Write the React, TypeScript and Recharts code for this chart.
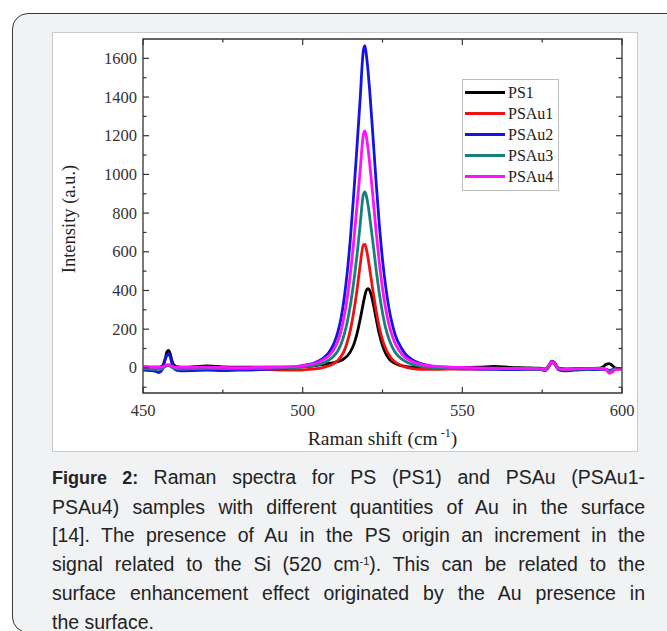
import { LineChart, Line, XAxis, YAxis, ReferenceArea, Label } from 'recharts';

// Raman shift (cm-1) sample positions
const ramanShift = [
  450, 452, 454, 455, 456, 457, 457.5, 458, 458.5, 459,
  460, 461, 463, 466, 470, 475, 480, 485, 490, 495,
  498, 500, 502, 504, 506, 508, 509, 510, 511, 512,
  513, 514, 515, 516, 517, 518, 519, 519.5, 520, 520.5,
  521, 522, 523, 524, 525, 526, 527, 528, 529, 530,
  532, 534, 537, 540, 545, 550, 555, 560, 565, 570,
  574, 576, 577, 578, 579, 580, 582, 585, 590, 593,
  594, 595, 596, 597, 598, 600,
];

const ps1 = [
  5, 4, 3, 3, 8, 50, 82, 90, 75, 40,
  10, 5, 4, 6, 10, 5, 3, 4, 3, 4,
  4, 5, 8, 12, 17, 22, 25, 28, 32, 38,
  48, 62, 85, 120, 175, 250, 335, 375, 403, 410,
  400, 340, 255, 175, 115, 75, 48, 32, 22, 15,
  8, 4, 2, 2, 3, 2, 3, 8, 2, 0,
  -2, -6, 10, 35, 25, 0, -6, -4, -3, -2,
  5, 18, 22, 12, -2, -5,
];

const psAu1 = [
  0, -2, -3, -3, 0, 8, 12, 13, 10, 5,
  0, -2, -3, -3, -2, -4, -6, -7, -9, -11,
  -11, -10, -8, -5, 0, 10, 16, 25, 38, 58,
  88, 135, 200, 290, 400, 530, 635, 638, 610, 565,
  510, 400, 295, 210, 145, 100, 68, 45, 30, 20,
  5, -3, -8, -8, -7, -6, -6, -4, -5, -6,
  -7, -10, 5, 28, 18, -5, -10, -8, -7, -6,
  -6, -10, -16, -12, -5, -6,
];

const psAu2 = [
  -12, -14, -18, -24, -10, 45, 65, 72, 58, 25,
  -8, -14, -15, -14, -12, -14, -12, -10, -6, -2,
  5, 12, 18, 28, 45, 75, 100, 135, 185, 255,
  360, 500, 680, 900, 1140, 1390, 1640, 1665, 1610, 1530,
  1430, 1200, 960, 740, 560, 420, 310, 230, 170, 130,
  75, 45, 22, 10, 0, -5, -6, -8, -9, -8,
  -8, -14, 2, 28, 18, -8, -16, -12, -9, -8,
  -6, -8, -12, -10, -5, -4,
];

const psAu3 = [
  -5, -6, -8, -8, -4, 8, 12, 14, 11, 4,
  -4, -6, -6, -5, -4, -5, -5, -4, -3, 0,
  3, 5, 9, 14, 22, 38, 50, 65, 88, 122,
  172, 240, 330, 445, 580, 740, 895, 910, 885, 840,
  780, 650, 510, 385, 285, 205, 150, 110, 80, 60,
  35, 20, 8, 2, -3, -4, -4, -5, -5, -5,
  -6, -10, 6, 30, 20, -4, -10, -7, -6, -5,
  -4, -8, -16, -12, -4, -5,
];

const psAu4 = [
  5, 4, 3, 3, 5, 12, 16, 17, 14, 8,
  4, 3, 2, 3, 4, 2, 1, 2, 3, 5,
  8, 12, 17, 24, 38, 60, 78, 102, 138, 190,
  265, 365, 495, 655, 835, 1020, 1205, 1225, 1190, 1130,
  1055, 885, 705, 545, 410, 305, 225, 168, 125, 95,
  55, 35, 18, 10, 4, 2, 0, -2, -3, -3,
  -4, -10, 8, 33, 22, -3, -8, -5, -4, -3,
  -2, -8, -28, -22, -8, -6,
];

const seriesNames = ['PS1', 'PSAu1', 'PSAu2', 'PSAu3', 'PSAu4'];
const seriesColors = ['#000000', '#ee1111', '#1414e6', '#16807a', '#ff10ff'];
const seriesValues = [ps1, psAu1, psAu2, psAu3, psAu4];

const xTicks = [450, 475, 500, 525, 550, 575, 600];
const xLabelled = [450, 500, 550, 600];
const yTicks = [-100, 0, 100, 200, 300, 400, 500, 600, 700, 800, 900, 1000, 1100, 1200, 1300, 1400, 1500, 1600];

const captionLines = [
  'Raman spectra for PS (PS1) and PSAu (PSAu1-',
  'PSAu4) samples with different quantities of Au in the surface',
  '[14]. The presence of Au in the PS origin an increment in the',
  'signal related to the Si (520 cm',
  'surface enhancement effect originated by the Au presence in',
  'the surface.',
];

const data = ramanShift.map((x, i) => {
  const row: Record<string, number> = { x };
  seriesNames.forEach((n, k) => {
    row[n] = seriesValues[k][i];
  });
  return row;
});

// plot box inside the chart svg
const W = 586;
const H = 420;
const PL = 91;
const PR = 570;
const PT = 7;
const PB = 361;
const serif = '"Liberation Serif", "Times New Roman", serif';
const axisColor = '#333';

function YTick(props: any) {
  const { y, payload } = props;
  const v = payload.value;
  const major = v % 200 === 0;
  const len = major ? 6 : 3.5;
  return (
    <g>
      <line x1={PL} x2={PL + len} y1={y} y2={y} stroke={axisColor} strokeWidth={1.2} />
      <line x1={PR} x2={PR - len} y1={y} y2={y} stroke={axisColor} strokeWidth={1.2} />
      {major && (
        <text x={PL - 6} y={y} textAnchor="end" dominantBaseline="central" fontFamily={serif} fontSize={16.5} fill="#333">
          {v}
        </text>
      )}
    </g>
  );
}

function XTick(props: any) {
  const { x, payload } = props;
  const v = payload.value;
  const major = xLabelled.includes(v);
  const len = major ? 6 : 3.5;
  return (
    <g>
      <line x1={x} x2={x} y1={PB} y2={PB - len} stroke={axisColor} strokeWidth={1.2} />
      <line x1={x} x2={x} y1={PT} y2={PT + len} stroke={axisColor} strokeWidth={1.2} />
      {major && (
        <text x={x} y={PB + 17} textAnchor="middle" dominantBaseline="central" fontFamily={serif} fontSize={16.5} fill="#333">
          {v}
        </text>
      )}
    </g>
  );
}

function LegendBox() {
  return (
    <div
      style={{
        position: 'absolute',
        left: 410,
        top: 47,
        background: '#fff',
        border: '1px solid #bdbdbd',
        padding: '2px 4px 3px 2px',
        width: 89,
        fontFamily: serif,
        fontSize: 16,
        color: '#222',
      }}
    >
      {seriesNames.map((n, k) => (
        <div key={n} style={{ display: 'flex', alignItems: 'center', height: 21.1 }}>
          <div style={{ width: 40, height: 3, background: seriesColors[k], marginRight: 3 }} />
          <span style={{ lineHeight: '21px' }}>{n}</span>
        </div>
      ))}
    </div>
  );
}

export default function App() {
  return (
    <div style={{ position: 'absolute', left: 0, top: 0, width: 667, height: 631, overflow: 'hidden', background: '#fff' }}>
      <div
        style={{
          position: 'absolute',
          left: 12,
          top: 13,
          width: 700,
          height: 618,
          border: '1.5px solid #3a3a3a',
          borderRadius: 16,
          background: '#f1f2f4',
        }}
      />
      <div
        style={{
          position: 'absolute',
          left: 52,
          top: 32,
          width: W,
          height: H,
          background: '#fff',
          boxShadow: 'inset 0 0 0 1px #c9c9c9',
        }}
      >
        <LineChart width={W} height={H} data={data} margin={{ top: PT, right: W - PR, bottom: 0, left: 0 }}>
          <XAxis
            dataKey="x"
            type="number"
            domain={[450, 600]}
            ticks={xTicks}
            allowDataOverflow
            height={H - PB}
            axisLine={false}
            tickLine={false}
            tick={<XTick />}
            interval={0}
          >
            <Label
              content={() => (
                <text x={(PL + PR) / 2} y={413} textAnchor="middle" fontFamily={serif} fontSize={19.5} fill="#222">
                  <tspan>Raman shift (cm</tspan>
                  <tspan dy={-8} fontSize={12}> -1</tspan>
                  <tspan dy={8}>)</tspan>
                </text>
              )}
            />
          </XAxis>
          <YAxis
            type="number"
            domain={[-130, 1700]}
            ticks={yTicks}
            allowDataOverflow
            width={PL}
            axisLine={false}
            tickLine={false}
            tick={<YTick />}
            interval={0}
          >
            <Label
              content={() => (
                <text
                  x={17}
                  y={(PT + PB) / 2 + 3}
                  transform={`rotate(-90 17 ${(PT + PB) / 2 + 3})`}
                  textAnchor="middle"
                  dominantBaseline="central"
                  fontFamily={serif}
                  fontSize={18.5}
                  fill="#222"
                >
                  Intensity (a.u.)
                </text>
              )}
            />
          </YAxis>
          <ReferenceArea x1={450} x2={600} y1={-130} y2={1700} fill="none" stroke={axisColor} strokeWidth={1.3} ifOverflow="visible" />
          {seriesNames.map((n, k) => (
            <Line
              key={n}
              dataKey={n}
              name={n}
              type="monotone"
              stroke={seriesColors[k]}
              strokeWidth={2.8}
              dot={false}
              isAnimationActive={false}
            />
          ))}
        </LineChart>
        <LegendBox />
      </div>
      <div
        style={{
          position: 'absolute',
          left: 52,
          top: 463,
          width: 593,
          fontFamily: '"Liberation Sans", Arial, sans-serif',
          fontSize: 19.5,
          lineHeight: '28.7px',
          color: '#222',
        }}
      >
        {captionLines.map((line, i) => (
          <div
            key={i}
            style={{ textAlign: 'justify', textAlignLast: i === captionLines.length - 1 ? 'left' : 'justify', whiteSpace: 'nowrap' }}
          >
            {i === 0 && <b style={{ fontSize: 18 }}>Figure 2: </b>}
            {line}
            {i === 3 && (
              <>
                <sup style={{ fontSize: 11, verticalAlign: 'top', lineHeight: '22px' }}>-1</sup>
                ). This can be related to the
              </>
            )}
          </div>
        ))}
      </div>
    </div>
  );
}
